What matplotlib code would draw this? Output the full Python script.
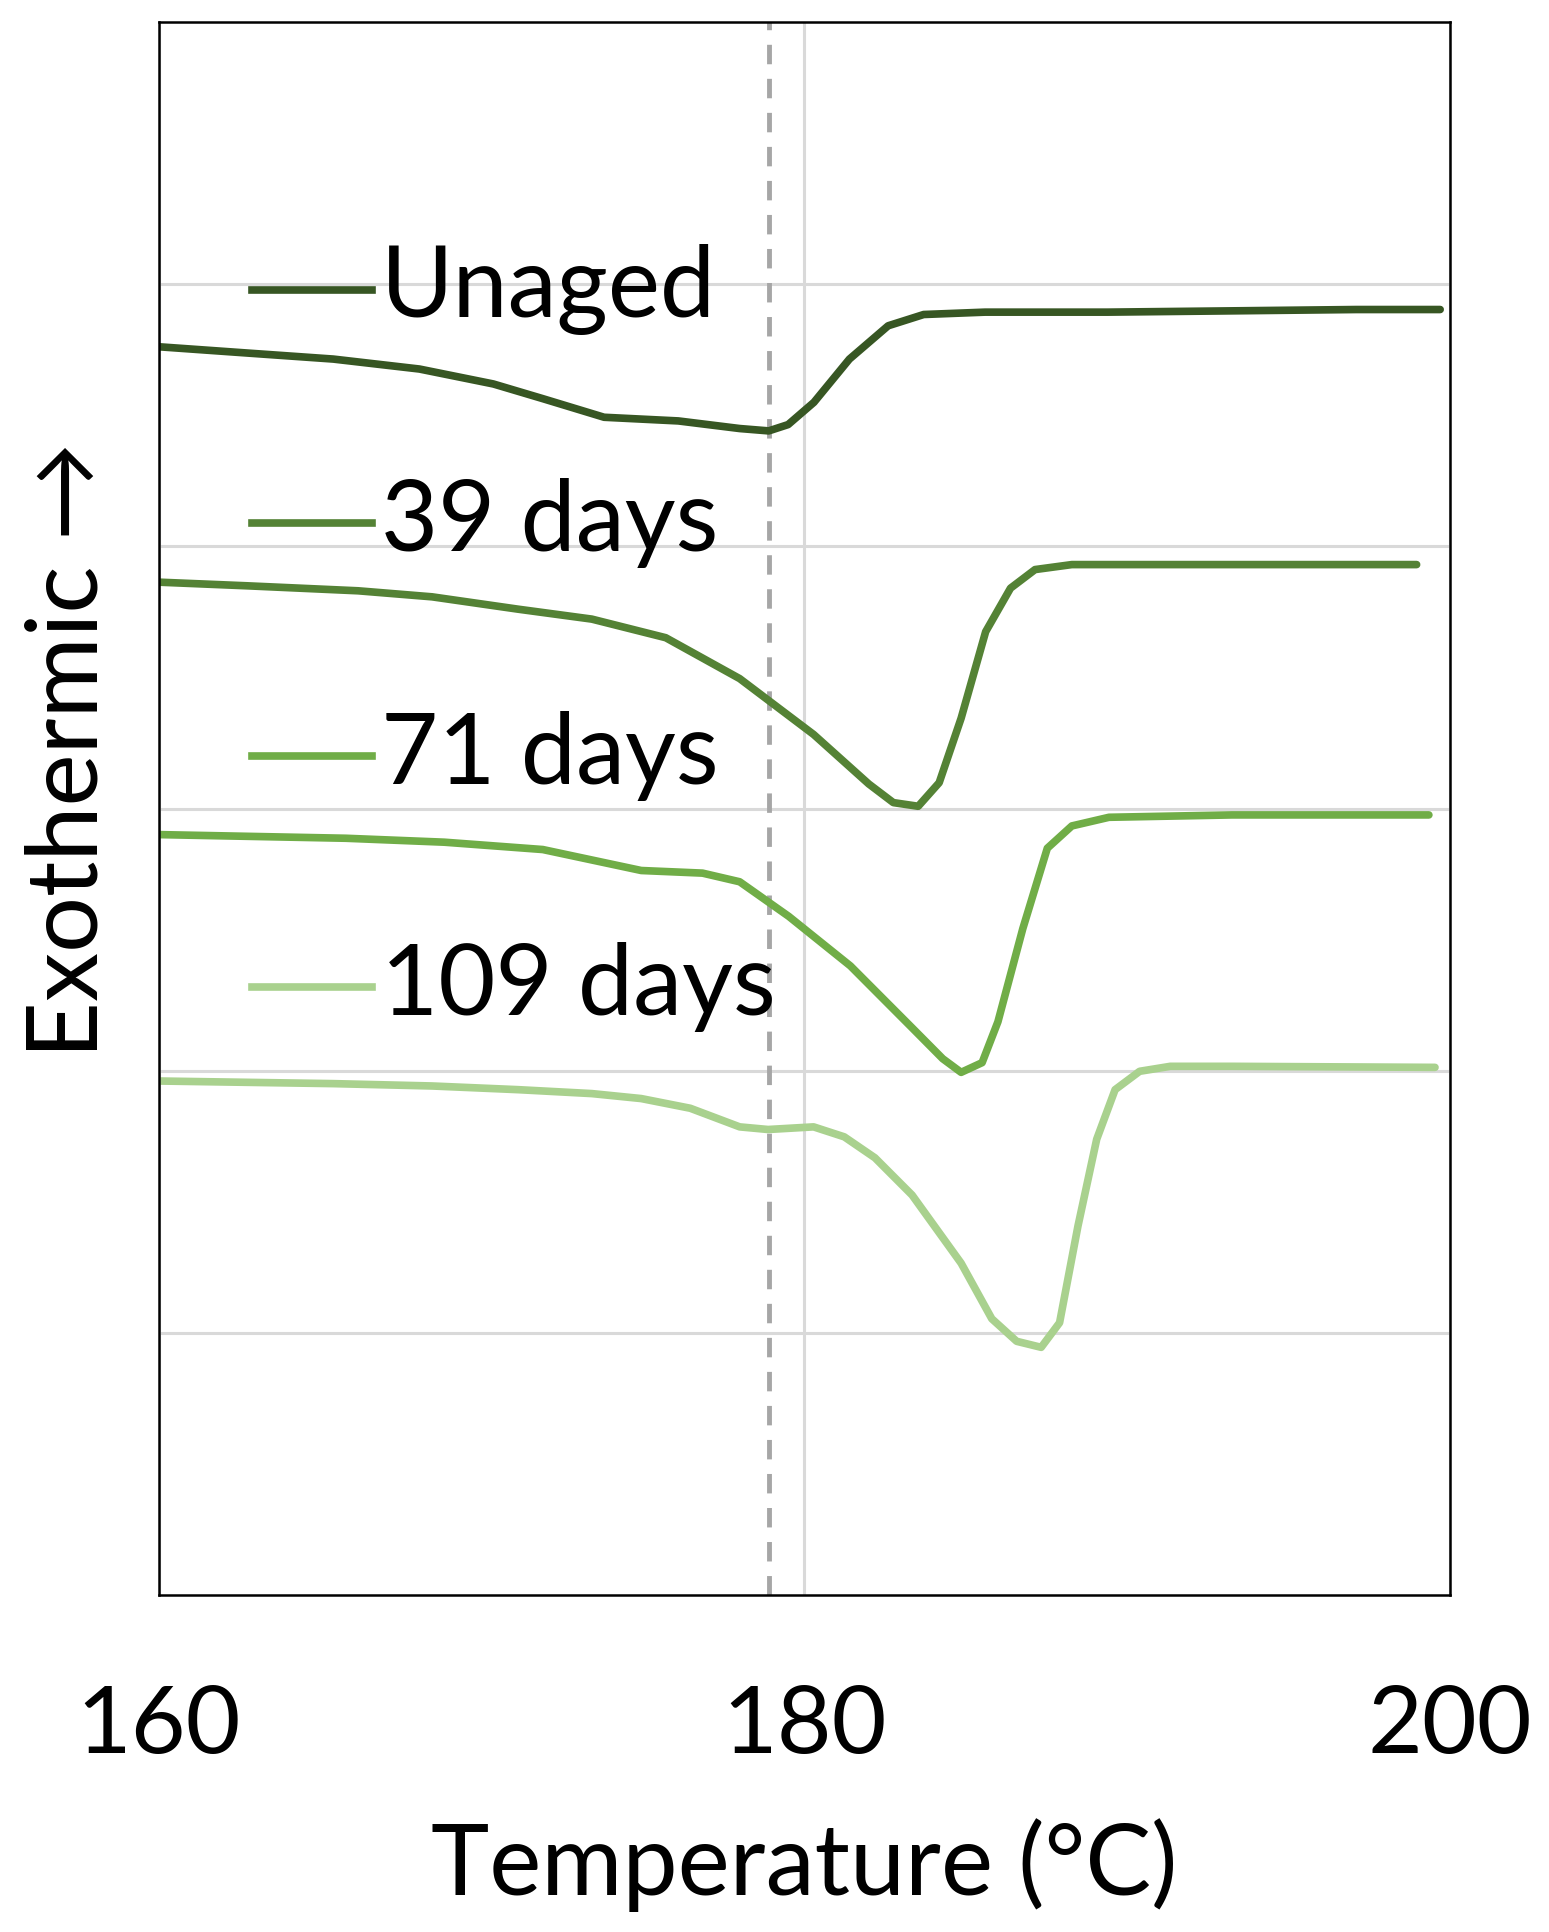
import matplotlib
matplotlib.use("Agg")
import matplotlib.pyplot as plt

plt.rcParams['font.family'] = ['Lato', 'DejaVu Sans']

labels = ["Unaged", "39 days", "71 days", "109 days"]
colors = ["#375623", "#548235", "#70AD47", "#A9D18E"]

x_unaged = [160, 162.75, 165.41, 168.08, 170.37, 171.9, 173.8, 176.1, 178.0, 178.9, 179.5, 180.3, 181.4, 182.6, 183.7, 185.6, 189.4, 193.3, 197.1, 199.7]
y_unaged = [4.762, 4.738, 4.715, 4.677, 4.620, 4.564, 4.493, 4.479, 4.450, 4.441, 4.465, 4.550, 4.715, 4.842, 4.885, 4.894, 4.894, 4.899, 4.904, 4.904]

x_39 = [160, 162.75, 166.18, 168.47, 171.13, 173.42, 175.71, 178.0, 180.29, 182.0, 182.76, 183.53, 184.18, 184.86, 185.62, 186.39, 187.15, 188.29, 193.25, 198.97]
y_39 = [3.864, 3.850, 3.831, 3.808, 3.761, 3.723, 3.652, 3.496, 3.283, 3.094, 3.023, 3.009, 3.099, 3.345, 3.675, 3.841, 3.912, 3.931, 3.931, 3.931]

x_71 = [160, 165.8, 168.85, 171.9, 174.95, 176.85, 178.0, 179.52, 181.43, 183.34, 184.29, 184.86, 185.51, 186.0, 186.77, 187.53, 188.29, 189.44, 193.25, 199.35]
y_71 = [2.901, 2.887, 2.872, 2.844, 2.764, 2.754, 2.721, 2.589, 2.400, 2.164, 2.046, 1.994, 2.031, 2.187, 2.542, 2.849, 2.934, 2.967, 2.976, 2.976]

x_109 = [160, 165.41, 168.47, 171.13, 173.42, 174.95, 176.47, 178.0, 178.88, 180.29, 181.24, 182.19, 183.34, 184.86, 185.81, 186.58, 187.34, 187.91, 188.48, 189.06, 189.63, 190.39, 191.34, 193.25, 199.54]
y_109 = [1.961, 1.951, 1.942, 1.928, 1.913, 1.894, 1.857, 1.786, 1.776, 1.786, 1.748, 1.668, 1.526, 1.266, 1.054, 0.968, 0.945, 1.039, 1.408, 1.739, 1.928, 1.998, 2.017, 2.017, 2.013]

dashed_x = 178.9
xticks = [160, 180, 200]
legend_y = [4.98, 4.09, 3.20, 2.32]

fig = plt.figure(figsize=(15.49, 19.32), dpi=100)
ax = fig.add_axes([0.1024, 0.1744, 0.8336, 0.8141])
ax.set_xlim(160, 200)
ax.set_ylim(0, 6)
ax.set_yticks([1, 2, 3, 4, 5])
ax.set_yticklabels([])
ax.set_xticks(xticks)
ax.grid(True, color="#d9d9d9", lw=2.2)
ax.set_axisbelow(True)
ax.tick_params(axis='both', length=0, labelsize=68, pad=65)
for s in ax.spines.values():
    s.set_linewidth(1.8)
    s.set_color("black")

ax.axvline(dashed_x, color="#a6a6a6", lw=3.5, ls=(0, (4, 3)))

series = [(x_unaged, y_unaged), (x_39, y_39), (x_71, y_71), (x_109, y_109)]
for (xs, ys), c, lab, ly in zip(series, colors, labels, legend_y):
    ax.plot(xs, ys, color=c, lw=5.5, solid_capstyle='round', solid_joinstyle='round')
    ax.plot([162.9, 166.6], [ly, ly], color=c, lw=5.5)
    ax.text(166.9, ly, lab, fontsize=71, va='center', ha='left', color='black')

ax.set_xlabel("Temperature (°C)", fontsize=71, labelpad=35)
fig.text(0.045, 0.612, "Exothermic →", rotation=90, fontsize=71, ha='center', va='center')

fig.savefig("out.png", dpi=100)
